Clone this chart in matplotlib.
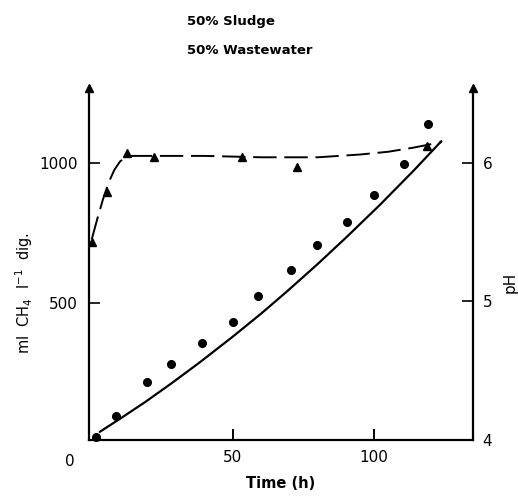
import matplotlib
matplotlib.use("Agg")
import matplotlib.pyplot as plt
import numpy as np

# --- data ---
gas_time = [1.5, 8.5, 19.4, 28.2, 39.1, 50.1, 59.0, 70.5, 79.7, 90.3, 100.1, 110.4, 118.9]
gas_vol = [20, 94, 217, 282, 358, 431, 524, 618, 707, 788, 885, 996, 1140]

fit_time = [2.8, 10, 18.8, 28, 38.3, 50, 60, 69, 80, 90.3, 102, 114, 123.8]
fit_vol = [39, 86, 145, 211, 288, 380, 462, 540, 639, 736, 850, 973, 1078]

ph_time = [0, 5.2, 12.3, 22.1, 53.1, 72.8, 118.7]
ph_val = [5.43, 5.79, 6.07, 6.04, 6.04, 5.97, 6.12]

phfit_time = [0, 2, 4, 6, 8, 10, 12, 14, 20, 40, 60, 80, 95, 105, 114, 124]
phfit_val = [5.45, 5.6, 5.74, 5.86, 5.95, 6.01, 6.04, 6.05, 6.05, 6.05, 6.04, 6.04, 6.06, 6.08, 6.11, 6.15]

title_lines = ["50% Sludge", "50% Wastewater"]
x_ticks = [50, 100]
left_ticks = [500, 1000]
right_ticks = [4, 5, 6]

W, H = 518, 498
fig = plt.figure(figsize=(W / 100, H / 100), dpi=100)
L, R, B, T = 89, 473, 440, 88
ax = fig.add_axes([L / W, (H - B) / H, (R - L) / W, (B - T) / H])
ax2 = ax.twinx()

ax.set_xlim(-1, 135)
ax.set_ylim(10, 1268)
ax2.set_ylim(4, 6.54)

for a in (ax, ax2):
    a.patch.set_visible(False)
    a.spines["top"].set_visible(False)
    for s in a.spines.values():
        s.set_linewidth(1.6)
ax.spines["right"].set_visible(False)
ax2.spines["left"].set_visible(False)
ax2.spines["bottom"].set_visible(False)

# curves
ax.plot(fit_time, fit_vol, color="black", lw=1.6, solid_capstyle="round",
        solid_joinstyle="round")
ax.plot(gas_time, gas_vol, "o", color="black", ms=5.5, clip_on=False)
ax2.plot(phfit_time, phfit_val, color="black", lw=1.4, dashes=(12, 4))
ax2.plot(ph_time, ph_val, "^", color="black", ms=6, clip_on=False)

# ticks
ax.set_xticks(x_ticks)
ax.set_xticklabels([str(v) for v in x_ticks])
ax.set_yticks(left_ticks)
ax.set_yticklabels([str(v) for v in left_ticks])
ax2.set_yticks(right_ticks)
ax2.set_yticklabels([str(v) for v in right_ticks])
ax.tick_params(axis="x", direction="in", length=8, width=1.4, pad=7, labelsize=11)
ax.tick_params(axis="y", direction="in", length=8, width=1.2, pad=8, labelsize=11)
ax2.tick_params(axis="y", direction="in", length=8, width=1.2, pad=7, labelsize=11)

# corner "0"
ax.annotate("0", xy=(0, 0), xycoords="axes fraction", xytext=(-14, -10),
            textcoords="offset points", ha="center", va="top", fontsize=11)

# arrows at top of vertical axes
ax.plot([0], [1.0], marker="^", color="black", ms=6, transform=ax.transAxes, clip_on=False)
ax.plot([1], [1.0], marker="^", color="black", ms=6, transform=ax.transAxes, clip_on=False)

# labels
ax.set_xlabel("Time (h)", fontsize=10.5, fontweight="bold", labelpad=8)
fig.text(24 / W, 1 - 293 / H, "ml  CH$_4$  l$^{-1}$  dig.", rotation=90,
         ha="center", va="center", fontsize=10.5)
fig.text(510 / W, 1 - 282 / H, "pH", rotation=90, ha="center", va="center", fontsize=11)

fig.text(187 / W, 1 - 22 / H, title_lines[0], ha="left", va="center",
         fontsize=9.5, fontweight="bold")
fig.text(187 / W, 1 - 50 / H, title_lines[1], ha="left", va="center",
         fontsize=9.5, fontweight="bold")

fig.savefig("out.png", dpi=100)
